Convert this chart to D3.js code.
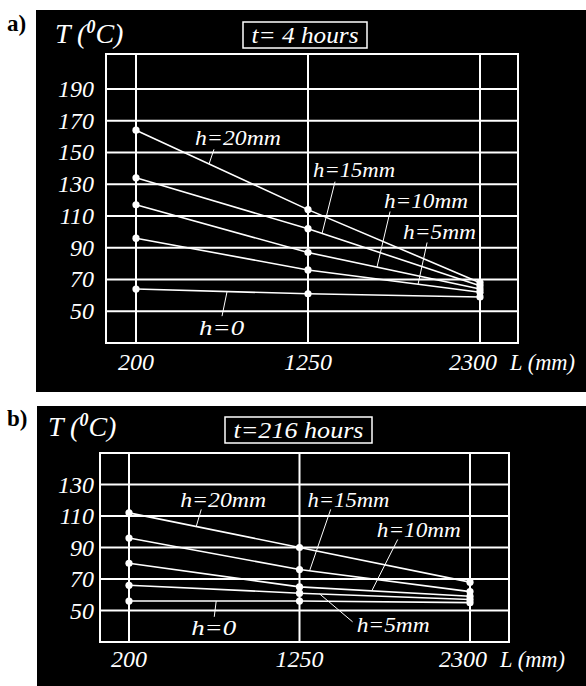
<!DOCTYPE html>
<html>
<head>
<meta charset="utf-8">
<script src="https://cdn.jsdelivr.net/npm/d3@7"></script>
<style>
  html, body { margin: 0; padding: 0; background: #fff; }
  svg { display: block; }
</style>
</head>
<body>
<svg id="chart" width="586" height="686"></svg>
<script>
// ---------- DATA ----------
const lengths = [200, 1250, 2300];          // L (mm)
const seriesNames = ["h=20mm", "h=15mm", "h=10mm", "h=5mm", "h=0"];

// Panel a) t = 4 hours, T (°C)
const tempA_h20 = [164, 114, 68];
const tempA_h15 = [134, 102, 66];
const tempA_h10 = [117, 87, 64];
const tempA_h5  = [96, 76, 62];
const tempA_h0  = [64, 61, 59];

// Panel b) t = 216 hours, T (°C)
const tempB_h20 = [112, 90, 68];
const tempB_h15 = [96, 76, 62];
const tempB_h10 = [80, 65, 59];
const tempB_h5  = [66, 61, 57];
const tempB_h0  = [56, 56, 55];

const ticksA = [190, 170, 150, 130, 110, 90, 70, 50];
const ticksB = [130, 110, 90, 70, 50];
const xTickLabels = ["200", "1250", "2300"];

// label anchors [L, T] and leader [fromL, fromT, toL(on series)]
const labelsA = [
  {name: "h=20mm", at: [560, 154.8], w: 86, lead: [676, 152, 646]},
  {name: "h=15mm", at: [1281, 134.7], w: 82, lead: [1415, 131.6, 1336]},
  {name: "h=10mm", at: [1714, 115.3], w: 84, lead: [1751, 112.8, 1671]},
  {name: "h=5mm",  at: [1830, 95.2], w: 73, lead: [1977, 93.3, 1922]},
  {name: "h=0",    at: [585, 34.9], w: 45, lead: [725, 46.9, 756]}
];
const labelsB = [
  {name: "h=20mm", at: [515, 115.5], w: 86, lead: [645, 114.2, 614]},
  {name: "h=15mm", at: [1299, 115.5], w: 82, lead: [1442, 114.2, 1312]},
  {name: "h=10mm", at: [1726, 96.4], w: 84, lead: [1855, 95.1, 1695]},
  {name: "h=5mm",  at: [1602, 36.4], w: 73, lead: [1577, 42.8, 1374]},
  {name: "h=0",    at: [583, 34.5], w: 45, lead: [725, 46, 737]}
];

// ---------- LAYOUT ----------
const panels = [
  {
    tag: "a)", tagY: 31,
    bg: {x: 36, y: 10, w: 550, h: 382},
    frame: {l: 106, r: 518, t: 54, b: 343},
    xRange: [136, 480],
    yDomain: [30, 212],
    ticks: ticksA,
    series: [tempA_h20, tempA_h15, tempA_h10, tempA_h5, tempA_h0],
    labels: labelsA,
    title: "t= 4 hours", titleLen: 107, titleBox: {x: 243, y: 22, w: 124, h: 26},
    yTitle: {x: 55, y: 43},
    xLabelY: 370
  },
  {
    tag: "b)", tagY: 426,
    bg: {x: 37, y: 406, w: 549, h: 280},
    frame: {l: 100, r: 509, t: 453, b: 642},
    xRange: [129, 470],
    yDomain: [30, 150],
    ticks: ticksB,
    series: [tempB_h20, tempB_h15, tempB_h10, tempB_h5, tempB_h0],
    labels: labelsB,
    title: "t=216 hours", titleLen: 130, titleBox: {x: 225, y: 417, w: 147, h: 26},
    yTitle: {x: 48, y: 436},
    xLabelY: 667
  }
];

const FONT = "Liberation Serif";
const svg = d3.select("#chart").style("font-family", FONT);

function interp(values, L) {
  const x = d3.scaleLinear().domain(lengths).range(values);
  return x(L);
}

function txt(g) {
  return g.append("text").style("font-family", FONT);
}

panels.forEach(p => {
  const g = svg.append("g");
  // panel letter (outside the black box)
  txt(g).attr("x", 7).attr("y", p.tagY)
    .attr("font-size", 23).attr("font-weight", "bold").attr("fill", "#000")
    .text(p.tag);

  g.append("rect").attr("x", p.bg.x).attr("y", p.bg.y)
    .attr("width", p.bg.w).attr("height", p.bg.h).attr("fill", "#000");

  const x = d3.scaleLinear().domain([lengths[0], lengths[2]]).range(p.xRange);
  const y = d3.scaleLinear().domain(p.yDomain).range([p.frame.b, p.frame.t]);

  // horizontal grid lines
  g.selectAll(".hg").data(p.ticks).enter().append("line")
    .attr("x1", p.frame.l).attr("x2", p.frame.r)
    .attr("y1", d => y(d)).attr("y2", d => y(d))
    .attr("stroke", "#fff").attr("stroke-width", 2);
  // vertical grid lines at measured lengths
  g.selectAll(".vg").data(lengths).enter().append("line")
    .attr("x1", d => x(d)).attr("x2", d => x(d))
    .attr("y1", p.frame.t).attr("y2", p.frame.b)
    .attr("stroke", "#fff").attr("stroke-width", 2);
  // frame
  g.append("rect").attr("x", p.frame.l).attr("y", p.frame.t)
    .attr("width", p.frame.r - p.frame.l).attr("height", p.frame.b - p.frame.t)
    .attr("fill", "none").attr("stroke", "#fff").attr("stroke-width", 2);

  // y tick labels
  p.ticks.forEach(d => {
    txt(g).attr("x", 94).attr("y", y(d) + 8)
      .attr("text-anchor", "end").attr("font-size", 24).attr("font-style", "italic")
      .attr("fill", "#fff").text(d);
  });

  // x tick labels
  lengths.forEach((d, i) => {
    txt(g).attr("x", x(d) - (i === 2 ? 7 : 0)).attr("y", p.xLabelY)
      .attr("text-anchor", "middle").attr("font-size", 24).attr("font-style", "italic")
      .attr("fill", "#fff").text(xTickLabels[i]);
  });

  // L (mm)
  txt(g).attr("x", p.xRange[1] + 30).attr("y", p.xLabelY)
    .attr("font-size", 24).attr("font-style", "italic").attr("fill", "#fff")
    .attr("textLength", 65).attr("lengthAdjust", "spacingAndGlyphs")
    .text("L (mm)");

  // y axis title T (⁰C)
  const yt = txt(g).attr("x", p.yTitle.x).attr("y", p.yTitle.y)
    .attr("font-size", 28).attr("font-style", "italic").attr("fill", "#fff");
  yt.append("tspan").text("T (");
  yt.append("tspan").attr("font-size", 18).attr("font-weight", "bold").attr("dy", -10).text("0");
  yt.append("tspan").attr("dy", 10).text("C)");

  // title box
  g.append("rect").attr("x", p.titleBox.x).attr("y", p.titleBox.y)
    .attr("width", p.titleBox.w).attr("height", p.titleBox.h)
    .attr("fill", "none").attr("stroke", "#fff").attr("stroke-width", 1.5);
  txt(g).attr("x", p.titleBox.x + (p.titleBox.w - p.titleLen) / 2)
    .attr("y", p.titleBox.y + p.titleBox.h - 5)
    .attr("font-size", 24).attr("font-style", "italic")
    .attr("textLength", p.titleLen).attr("lengthAdjust", "spacingAndGlyphs")
    .attr("fill", "#fff").text(p.title);

  // series lines and points
  const line = d3.line().x((d, i) => x(lengths[i])).y(d => y(d));
  p.series.forEach(vals => {
    g.append("path").attr("d", line(vals)).attr("fill", "none")
      .attr("stroke", "#fff").attr("stroke-width", 1.6);
    g.selectAll(null).data(vals).enter().append("circle")
      .attr("cx", (d, i) => x(lengths[i])).attr("cy", d => y(d))
      .attr("r", 3.6).attr("fill", "#fff");
  });

  // labels and leaders
  p.labels.forEach((lb, k) => {
    const vals = p.series[k];
    g.append("line")
      .attr("x1", x(lb.lead[0])).attr("y1", y(lb.lead[1]))
      .attr("x2", x(lb.lead[2])).attr("y2", y(interp(vals, lb.lead[2])))
      .attr("stroke", "#fff").attr("stroke-width", 1);
    txt(g).attr("x", x(lb.at[0])).attr("y", y(lb.at[1]))
      .attr("font-size", 21).attr("font-style", "italic").attr("fill", "#fff")
      .attr("textLength", lb.w).attr("lengthAdjust", "spacingAndGlyphs")
      .text(lb.name);
  });
});
</script>
</body>
</html>
